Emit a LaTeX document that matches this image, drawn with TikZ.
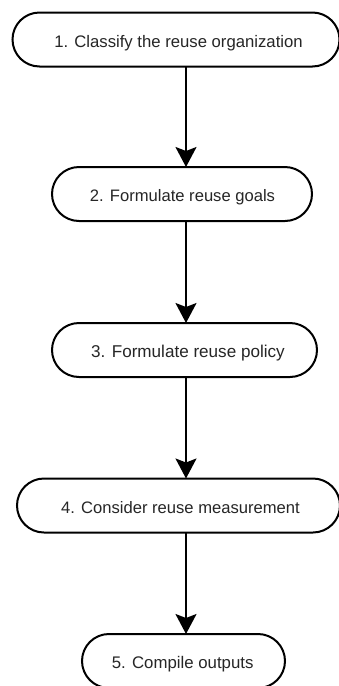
\documentclass[tikz,border=0pt]{standalone}
\usepackage{fontspec}
\setmainfont{Liberation Sans}
\newfontfamily\stagefont{Liberation Sans}
\usetikzlibrary{shapes.misc,arrows.meta}

\begin{document}
\begin{tikzpicture}[x=1pt,y=-1pt,
  stage/.style={rounded rectangle, draw=black, line width=2pt, fill=white,
    minimum height=54pt, inner sep=0pt, outer sep=0pt},
  caption/.style={font=\stagefont\fontsize{#1}{20pt}\selectfont,
    text height=15.4pt, text depth=0pt, inner sep=0pt, text=black!85},
  caption/.default=16.6pt,
  flow/.style={line width=2pt, draw=black,
    -{Stealth[length=20pt, width=21pt, inset=4pt]}}
]
  % page frame
  \useasboundingbox (0,0) rectangle (339,686);

  % column along which the connectors run
  \coordinate (col) at (186,0);

  % process stages
  \node[stage, minimum width=327pt,
    label={[caption=16.7pt, xshift=2.5pt]center:1. Classify the reuse organization}]
    (s1) at (176,39.5) {};
  \node[stage, minimum width=260pt,
    label={[caption=16.6pt, xshift=0.5pt]center:2. Formulate reuse goals}]
    (s2) at (182,194) {};
  \node[stage, minimum width=265pt,
    label={[caption=17.1pt, xshift=3.5pt]center:3. Formulate reuse policy}]
    (s3) at (184.5,350) {};
  \node[stage, minimum width=323pt,
    label={[caption=16.6pt, xshift=2pt]center:4. Consider reuse measurement}]
    (s4) at (178.5,505.5) {};
  \node[stage, minimum width=203pt,
    label={[caption=16.8pt, xshift=-0.8pt]center:5. Compile outputs}]
    (s5) at (183.5,661) {};

  % connectors
  \draw[flow] (s1.south -| col) -- (s2.north -| col);
  \draw[flow] (s2.south -| col) -- (s3.north -| col);
  \draw[flow] (s3.south -| col) -- (s4.north -| col);
  \draw[flow] (s4.south -| col) -- (s5.north -| col);
\end{tikzpicture}
\end{document}
